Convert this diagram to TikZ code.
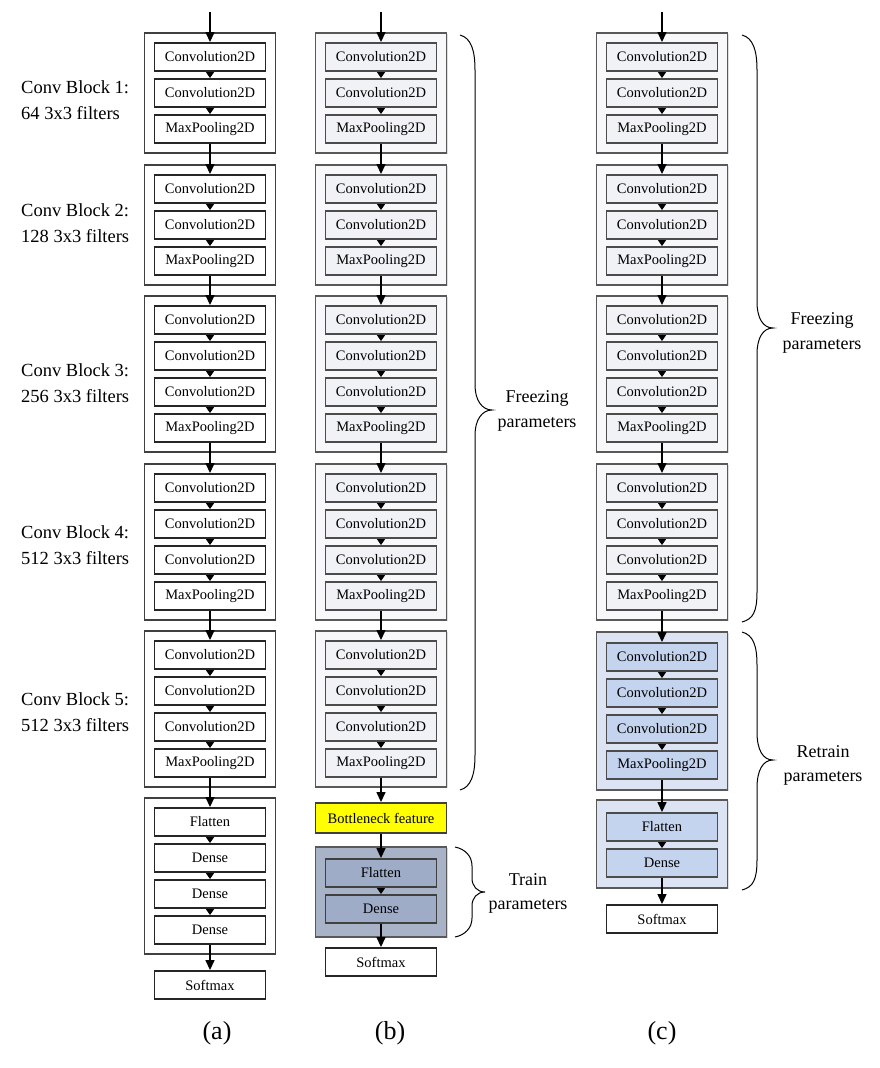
\documentclass[tikz,border=0pt]{standalone}
\usepackage{fontspec}
\setmainfont{Liberation Serif}
\usetikzlibrary{arrows.meta,shadows}
\definecolor{frzo}{HTML}{F8F8FB}
\definecolor{frzi}{HTML}{F1F2F6}
\definecolor{bluo}{HTML}{DCE4F3}
\definecolor{blui}{HTML}{C4D3EE}
\definecolor{trno}{HTML}{A9B3C8}
\definecolor{trni}{HTML}{9EACC7}
\definecolor{bneck}{HTML}{FFFF00}
\newcommand{\blk}[5]{\node[blkbox,#5,minimum height={#4-#3}] (#1) at (#2,{(#3+#4)/2}) {};}
\newcommand{\inb}[5]{\node[inbox,#5] (#1) at (#2,{#3+14}) {#4};}
\begin{document}
\begin{tikzpicture}[x=1pt,y=-1pt,
  blkbox/.style={draw=black!75, line width=1.6pt, fill=white, minimum width=131pt, inner sep=0pt},
  inbox/.style={draw=black!85, line width=1.9pt, fill=white, minimum width=111pt, minimum height=28pt, inner sep=0pt, font=\fontsize{14.5}{16}\selectfont},
  frzO/.style={fill=frzo, draw=black!65, drop shadow={shadow xshift=1pt, shadow yshift=-1pt, opacity=0.25}},
  frzI/.style={fill=frzi, draw=black!70},
  bluO/.style={fill=bluo, draw=black!65, drop shadow={shadow xshift=1pt, shadow yshift=-1pt, opacity=0.25}},
  bluI/.style={fill=blui, draw=black!70},
  trnO/.style={fill=trno, draw=black!65, drop shadow={shadow xshift=1pt, shadow yshift=-1pt, opacity=0.3}},
  trnI/.style={fill=trni, draw=black!75},
  bigarr/.style={-{Triangle[width=9pt,length=10pt]}, line width=1.4pt},
  smallarr/.style={-{Triangle[width=8pt,length=6pt]}, line width=1.2pt},
  lbltxt/.style={font=\fontsize{18.5}{22}\selectfont, inner sep=0pt},
  sidetxt/.style={font=\fontsize{18}{21}\selectfont, inner sep=0pt},
  captxt/.style={font=\fontsize{26}{29}\selectfont, inner sep=0pt},
  bracepath/.style={line width=1pt, draw=black}]
\useasboundingbox (0,0) rectangle (880,1068);
\fill[white] (0,0) rectangle (880,1068);

% ================= column (a) =================
\blk{a1}{210}{33}{153}{}
\inb{a11}{210}{43}{Convolution2D}{}
\inb{a12}{210}{79}{Convolution2D}{}
\inb{a13}{210}{115}{MaxPooling2D}{}
\blk{a2}{210}{165}{285}{}
\inb{a21}{210}{175}{Convolution2D}{}
\inb{a22}{210}{211}{Convolution2D}{}
\inb{a23}{210}{247}{MaxPooling2D}{}
\blk{a3}{210}{296}{452}{}
\inb{a31}{210}{306}{Convolution2D}{}
\inb{a32}{210}{342}{Convolution2D}{}
\inb{a33}{210}{378}{Convolution2D}{}
\inb{a34}{210}{414}{MaxPooling2D}{}
\blk{a4}{210}{464}{620}{}
\inb{a41}{210}{474}{Convolution2D}{}
\inb{a42}{210}{510}{Convolution2D}{}
\inb{a43}{210}{546}{Convolution2D}{}
\inb{a44}{210}{582}{MaxPooling2D}{}
\blk{a5}{210}{631}{787}{}
\inb{a51}{210}{641}{Convolution2D}{}
\inb{a52}{210}{677}{Convolution2D}{}
\inb{a53}{210}{713}{Convolution2D}{}
\inb{a54}{210}{749}{MaxPooling2D}{}
\blk{a6}{210}{798}{954}{}
\inb{a61}{210}{808}{Flatten}{}
\inb{a62}{210}{844}{Dense}{}
\inb{a63}{210}{880}{Dense}{}
\inb{a64}{210}{916}{Dense}{}
\inb{asm}{210}{971}{Softmax}{}
\coordinate (ain) at (210,12);
\draw[bigarr] (ain) -- (a11.north);
\foreach \p/\q in {a11/a12,a12/a13,a21/a22,a22/a23,a31/a32,a32/a33,a33/a34,a41/a42,a42/a43,a43/a44,a51/a52,a52/a53,a53/a54,a61/a62,a62/a63,a63/a64}
  \draw[smallarr] (\p.south) -- (\q.north);
\foreach \p/\q in {a13/a21,a23/a31,a34/a41,a44/a51,a54/a61,a64/asm}
  \draw[bigarr] (\p.south) -- (\q.north);

% labels
\node[lbltxt,anchor=west] (l1a) at (21,87) {Conv Block 1:};
\node[lbltxt,anchor=west] (l1b) at (21,113) {64 3x3 filters};
\node[lbltxt,anchor=west] (l2a) at (21,210) {Conv Block 2:};
\node[lbltxt,anchor=west] (l2b) at (21,236) {128 3x3 filters};
\node[lbltxt,anchor=west] (l3a) at (21,370) {Conv Block 3:};
\node[lbltxt,anchor=west] (l3b) at (21,396) {256 3x3 filters};
\node[lbltxt,anchor=west] (l4a) at (21,532) {Conv Block 4:};
\node[lbltxt,anchor=west] (l4b) at (21,558) {512 3x3 filters};
\node[lbltxt,anchor=west] (l5a) at (21,699) {Conv Block 5:};
\node[lbltxt,anchor=west] (l5b) at (21,725) {512 3x3 filters};

% ================= column (b) =================
\blk{b1}{381}{33}{153}{frzO}
\inb{b11}{381}{43}{Convolution2D}{frzI}
\inb{b12}{381}{79}{Convolution2D}{frzI}
\inb{b13}{381}{115}{MaxPooling2D}{frzI}
\blk{b2}{381}{165}{285}{frzO}
\inb{b21}{381}{175}{Convolution2D}{frzI}
\inb{b22}{381}{211}{Convolution2D}{frzI}
\inb{b23}{381}{247}{MaxPooling2D}{frzI}
\blk{b3}{381}{296}{452}{frzO}
\inb{b31}{381}{306}{Convolution2D}{frzI}
\inb{b32}{381}{342}{Convolution2D}{frzI}
\inb{b33}{381}{378}{Convolution2D}{frzI}
\inb{b34}{381}{414}{MaxPooling2D}{frzI}
\blk{b4}{381}{464}{620}{frzO}
\inb{b41}{381}{474}{Convolution2D}{frzI}
\inb{b42}{381}{510}{Convolution2D}{frzI}
\inb{b43}{381}{546}{Convolution2D}{frzI}
\inb{b44}{381}{582}{MaxPooling2D}{frzI}
\blk{b5}{381}{631}{787}{frzO}
\inb{b51}{381}{641}{Convolution2D}{frzI}
\inb{b52}{381}{677}{Convolution2D}{frzI}
\inb{b53}{381}{713}{Convolution2D}{frzI}
\inb{b54}{381}{749}{MaxPooling2D}{frzI}
\node[inbox, fill=bneck, draw=black!75, minimum width=131pt, minimum height=30pt] (bneck) at (381,818) {Bottleneck feature};
\blk{b6}{381}{847}{937}{trnO}
\inb{b61}{381}{859}{Flatten}{trnI}
\inb{b62}{381}{895}{Dense}{trnI}
\inb{bsm}{381}{948}{Softmax}{}
\coordinate (bin) at (381,12);
\draw[bigarr] (bin) -- (b11.north);
\foreach \p/\q in {b11/b12,b12/b13,b21/b22,b22/b23,b31/b32,b32/b33,b33/b34,b41/b42,b42/b43,b43/b44,b51/b52,b52/b53,b53/b54,b61/b62}
  \draw[smallarr] (\p.south) -- (\q.north);
\foreach \p/\q in {b13/b21,b23/b31,b34/b41,b44/b51,b54/bneck,bneck/b61,b62/bsm}
  \draw[bigarr] (\p.south) -- (\q.north);

% braces (b)
\draw[bracepath] (460,35) .. controls (471,38) and (475,50) .. (475,70) -- (475,385)
  .. controls (475,400) and (482,410) .. (492,410)
  .. controls (482,410) and (475,420) .. (475,435) -- (475,755)
  .. controls (475,775) and (471,787) .. (460,790);
\node[sidetxt] (bf1) at (537,398) {Freezing};
\node[sidetxt] (bf2) at (537,424) {parameters};
\draw[bracepath] (455,847) .. controls (465,849) and (472,856) .. (472,866) -- (472,878)
  .. controls (472,886) and (477,892) .. (485,892)
  .. controls (477,892) and (472,898) .. (472,906) -- (472,918)
  .. controls (472,928) and (465,935) .. (455,937);
\node[sidetxt] (bt1) at (528,880) {Train};
\node[sidetxt] (bt2) at (528,906) {parameters};

% ================= column (c) =================
\blk{c1}{662}{33}{153}{frzO}
\inb{c11}{662}{43}{Convolution2D}{frzI}
\inb{c12}{662}{79}{Convolution2D}{frzI}
\inb{c13}{662}{115}{MaxPooling2D}{frzI}
\blk{c2}{662}{165}{285}{frzO}
\inb{c21}{662}{175}{Convolution2D}{frzI}
\inb{c22}{662}{211}{Convolution2D}{frzI}
\inb{c23}{662}{247}{MaxPooling2D}{frzI}
\blk{c3}{662}{296}{452}{frzO}
\inb{c31}{662}{306}{Convolution2D}{frzI}
\inb{c32}{662}{342}{Convolution2D}{frzI}
\inb{c33}{662}{378}{Convolution2D}{frzI}
\inb{c34}{662}{414}{MaxPooling2D}{frzI}
\blk{c4}{662}{464}{620}{frzO}
\inb{c41}{662}{474}{Convolution2D}{frzI}
\inb{c42}{662}{510}{Convolution2D}{frzI}
\inb{c43}{662}{546}{Convolution2D}{frzI}
\inb{c44}{662}{582}{MaxPooling2D}{frzI}
\blk{c5}{662}{632}{790}{bluO}
\inb{c51}{662}{643}{Convolution2D}{bluI}
\inb{c52}{662}{679}{Convolution2D}{bluI}
\inb{c53}{662}{715}{Convolution2D}{bluI}
\inb{c54}{662}{751}{MaxPooling2D}{bluI}
\blk{c6}{662}{800}{888}{bluO}
\inb{c61}{662}{813}{Flatten}{bluI}
\inb{c62}{662}{849}{Dense}{bluI}
\inb{csm}{662}{905}{Softmax}{}
\coordinate (cin) at (662,12);
\draw[bigarr] (cin) -- (c11.north);
\foreach \p/\q in {c11/c12,c12/c13,c21/c22,c22/c23,c31/c32,c32/c33,c33/c34,c41/c42,c42/c43,c43/c44,c51/c52,c52/c53,c53/c54,c61/c62}
  \draw[smallarr] (\p.south) -- (\q.north);
\foreach \p/\q in {c13/c21,c23/c31,c34/c41,c44/c51,c54/c61,c62/csm}
  \draw[bigarr] (\p.south) -- (\q.north);

% braces (c)
\draw[bracepath] (742,35) .. controls (753,38) and (757,50) .. (757,70) -- (757,302)
  .. controls (757,318) and (763,328) .. (773,328)
  .. controls (763,328) and (757,338) .. (757,354) -- (757,592)
  .. controls (757,612) and (753,619) .. (742,622);
\node[sidetxt] (cf1) at (822,320) {Freezing};
\node[sidetxt] (cf2) at (822,346) {parameters};
\draw[bracepath] (742,632) .. controls (753,635) and (757,645) .. (757,665) -- (757,732)
  .. controls (757,750) and (763,760) .. (773,760)
  .. controls (763,760) and (757,770) .. (757,788) -- (757,860)
  .. controls (757,880) and (753,887) .. (742,890);
\node[sidetxt] (cr1) at (823,752) {Retrain};
\node[sidetxt] (cr2) at (823,778) {parameters};

% captions
\node[captxt] (capa) at (217,1033) {(a)};
\node[captxt] (capb) at (390,1033) {(b)};
\node[captxt] (capc) at (662,1033) {(c)};
\end{tikzpicture}
\end{document}
